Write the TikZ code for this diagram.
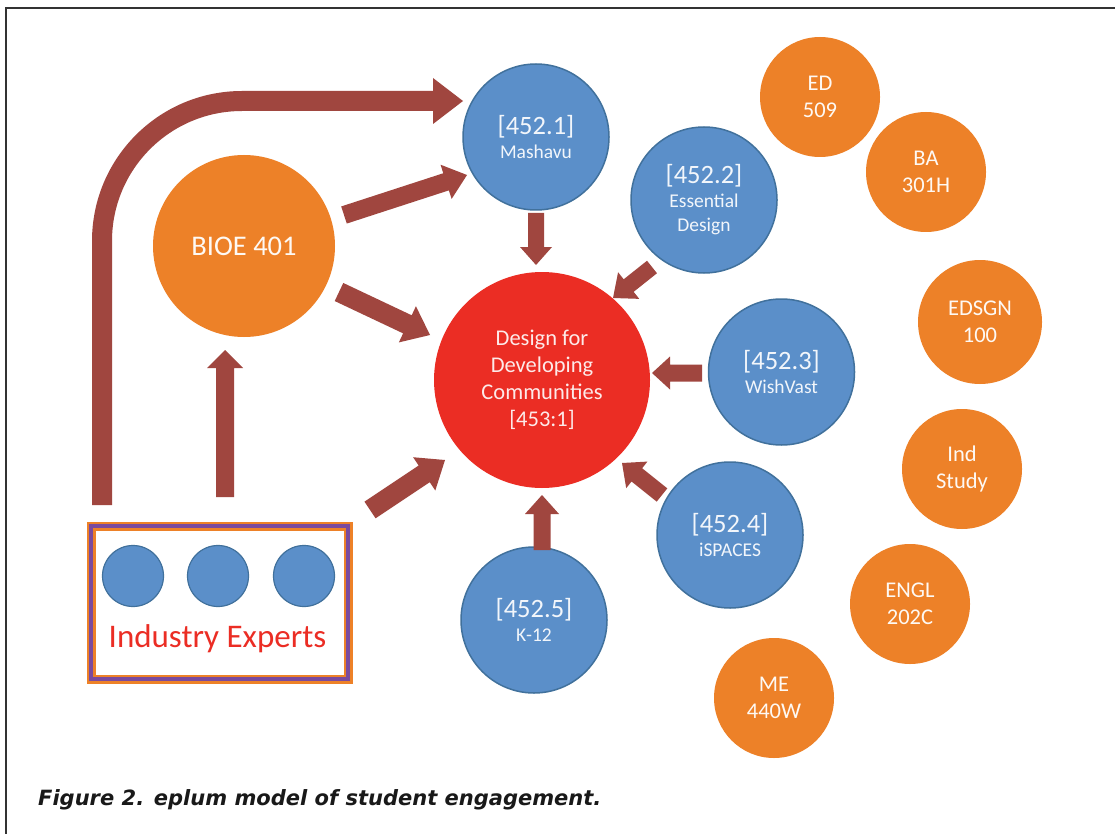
\documentclass[tikz,border=0pt]{standalone}
\usepackage{fontspec}
\setmainfont{Carlito}
\newfontfamily\capfont{DejaVu Sans}
\usetikzlibrary{calc}
\definecolor{bluef}{HTML}{5B8FC9}
\definecolor{blued}{HTML}{41719C}
\definecolor{orangef}{HTML}{ED8128}
\definecolor{redf}{HTML}{EB2D24}
\definecolor{arrowc}{HTML}{A0463F}
\definecolor{purp}{HTML}{7A4A9E}
\definecolor{framec}{HTML}{333333}
\newcommand\blockarrow[5]{%
  \coordinate (ba-s) at #1;
  \coordinate (ba-t) at #2;
  \coordinate (ba-h) at ($(ba-t)!#5!(ba-s)$);
  \fill[arrowc] ($(ba-s)!#3!90:(ba-t)$) -- ($(ba-h)!#3!-90:(ba-s)$) -- ($(ba-h)!#4!-90:(ba-s)$) -- (ba-t)
     -- ($(ba-h)!#4!90:(ba-s)$) -- ($(ba-h)!#3!90:(ba-s)$) -- ($(ba-s)!#3!-90:(ba-t)$) -- cycle;}
\tikzset{
  bluec/.style={circle, fill=bluef, draw=blued, line width=1.5pt, minimum size=146pt, inner sep=0pt,
     text=white!92!bluef, align=center, font=\fontsize{19.5}{24}\selectfont},
  orc/.style={circle, fill=orangef, minimum size=120pt, inner sep=0pt, text=white!95!orangef,
     align=center, font=\fontsize{22.5}{27}\selectfont},
  smallc/.style={circle, fill=bluef, draw=blued, line width=1.2pt, minimum size=61pt, inner sep=0pt}
}
\begin{document}
\begin{tikzpicture}[x=1pt,y=-1pt]
\useasboundingbox (0,0) rectangle (1115,834);
\fill[white] (0,0) rectangle (1115,834);
\draw[framec, line width=1.5pt] (6,834) -- (6,8) -- (1115,8);

% main circle
\node[circle, fill=redf, minimum size=216pt, inner sep=0pt, text=white!90!redf, align=center,
      font=\fontsize{22.5}{27}\selectfont] (c) at (542,380) {Design for\\Developing\\Communities\\{[}453:1{]}};

% blue circles
\node[bluec] (m1) at (536,137) {{\fontsize{26.5}{24}\selectfont [452.1]}\\Mashavu};
\node[bluec] (m2) at (704,200) {{\fontsize{26.5}{24}\selectfont [452.2]}\\Essential\\Design};
\node[bluec] (m3) at (781.5,372) {{\fontsize{26.5}{24}\selectfont [452.3]}\\WishVast};
\node[bluec] (m4) at (730,535) {{\fontsize{26.5}{24}\selectfont [452.4]}\\iSPACES};
\node[bluec] (m5) at (534,620) {{\fontsize{26.5}{24}\selectfont [452.5]}\\K-12};

% BIOE
\node[circle, fill=orangef, minimum size=182pt, inner sep=0pt, text=white!95!orangef,
      font=\fontsize{28.5}{30}\selectfont] (bioe) at (244,246) {BIOE 401};

% orange circles
\node[orc] (o1) at (820,97) {ED\\509};
\node[orc] (o2) at (926,172) {BA\\301H};
\node[orc, minimum size=124pt] (o3) at (980,322) {EDSGN\\100};
\node[orc] (o4) at (962,469) {Ind\\Study};
\node[orc] (o5) at (910,604) {ENGL\\202C};
\node[orc] (o6) at (774,698) {ME\\440W};

% industry experts box
\node[draw=orangef, line width=9pt, fill=white, minimum width=257pt, minimum height=153pt,
      inner sep=0pt, outer sep=0pt] (ind) at (219.5,602.5) {};
\draw[purp, line width=4pt] (ind.south west) rectangle (ind.north east);
\node[smallc] (e1) at (133,576) {};
\node[smallc] (e2) at (218,576) {};
\node[smallc] (e3) at (304,576) {};
\node[anchor=base, text=redf, font=\fontsize{33}{36}\selectfont, inner sep=0pt] (it) at (217.5,647) {Industry Experts};

% curved arrow
\coordinate (ca-s) at ($(ind.center)+(-117.5,-97.5)$);
\coordinate (ca-t) at ($(m1.center)+(-73,-36)$);
\coordinate (ca-h) at ($(ca-t)+(-30,0)$);
\draw[arrowc, line width=20pt, rounded corners=140pt] (ca-s) -- (ca-s |- ca-h) -- (ca-h);
\fill[arrowc] ($(ca-h)+(0,-23)$) -- (ca-t) -- ($(ca-h)+(0,23)$) -- cycle;

% block arrows
\blockarrow{($(bioe.center)+(100,-31)$)}{($(m1.center)+(-69,38)$)}{9pt}{18pt}{22pt}
\blockarrow{($(m1.center)+(0,76)$)}{($(c.center)+(-6,-115)$)}{8pt}{16pt}{18pt}
\blockarrow{($(bioe.center)+(95,46)$)}{($(c.center)+(-112,-45)$)}{10pt}{20pt}{25pt}
\blockarrow{($(ind.center)+(5.5,-105.5)$)}{($(bioe.center)+(-19,104)$)}{9pt}{18pt}{18pt}
\blockarrow{($(ind.center)+(150.5,-92.5)$)}{($(c.center)+(-97,80)$)}{10pt}{20pt}{25pt}
\blockarrow{($(m2.center)+(-52,67)$)}{($(c.center)+(71,-82)$)}{8pt}{17pt}{20pt}
\blockarrow{($(m3.center)+(-79.5,1)$)}{($(c.center)+(110,-7)$)}{8.5pt}{16.5pt}{18pt}
\blockarrow{($(m4.center)+(-68,-40)$)}{($(c.center)+(80,83)$)}{8.5pt}{17pt}{19pt}
\blockarrow{($(m5.center)+(8,-70)$)}{($(c.center)+(0,115)$)}{8.5pt}{17pt}{19pt}

% caption
\node[anchor=base west, inner sep=0pt, text=black!90, font=\capfont\bfseries\itshape\fontsize{21}{26}\selectfont]
  (cap) at (38,805) {Figure 2. eplum model of student engagement.};
\end{tikzpicture}
\end{document}
